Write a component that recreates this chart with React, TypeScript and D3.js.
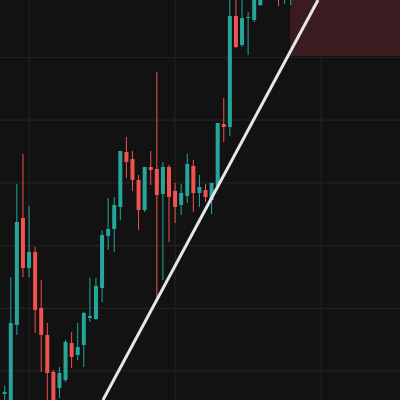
import React from "react";
import * as d3 from "d3";

const opens = [96.33, 95.37, 107.34, 124.4, 116.43, 118.98, 110.05, 105.74, 99.84, 97.29, 98.56, 104.47, 102.55, 104.15, 108.45, 108.29, 113.24, 121.53, 122.65, 126.16, 134.93, 133.81, 130.46, 125.68, 132.54, 132.22, 128.23, 132.54, 128.71, 126.48, 127.91, 132.7, 128.39, 128.87, 127.27, 129.51, 139.39, 138.92, 156.62, 151.99, 156.3, 155.98, 158.37, 161.0, 162.0, 161.08, 160.5, 160.0];
const closes = [96.65, 107.66, 123.77, 116.43, 118.98, 109.73, 105.74, 99.68, 95.06, 99.68, 104.63, 102.23, 103.83, 109.25, 108.77, 113.56, 121.69, 122.65, 126.48, 135.09, 133.33, 130.46, 125.68, 132.54, 132.06, 128.07, 132.54, 127.75, 126.16, 128.39, 133.01, 128.39, 129.35, 127.75, 129.98, 139.55, 138.92, 156.62, 151.67, 156.3, 156.46, 160.45, 160.77, 162.0, 161.5, 159.81, 161.2, 161.0];
const highs = [97.61, 114.99, 129.83, 134.61, 126.32, 119.78, 114.51, 107.66, 100.16, 100.64, 104.94, 106.22, 107.66, 109.41, 114.83, 114.83, 122.49, 127.59, 127.75, 135.09, 137.32, 135.09, 131.26, 132.54, 135.09, 147.69, 133.33, 132.86, 129.98, 129.83, 134.61, 133.65, 131.26, 129.83, 129.98, 139.55, 143.54, 159.97, 159.97, 159.97, 157.26, 160.77, 161.2, 162.8, 163.0, 161.5, 161.8, 161.5];
const lows = [95.06, 95.06, 105.74, 114.99, 114.99, 106.06, 99.84, 95.37, 94.58, 95.69, 98.25, 100.48, 101.75, 100.64, 107.82, 108.13, 111.0, 119.3, 118.98, 124.08, 130.78, 128.71, 122.49, 125.36, 129.67, 111.8, 114.51, 120.57, 123.6, 124.88, 126.79, 125.36, 126.16, 126.95, 125.04, 128.87, 136.52, 137.48, 151.52, 151.67, 150.4, 155.66, 158.21, 160.2, 160.5, 158.21, 158.53, 158.37];

const trendIdx = [16.15, 51.49];
const trendPrice = [95.37, 159.17];
const zoneIdx = [46.9, 70];
const zonePrice = [150.24, 170];
const gridIdx = [4, 28, 52];
const gridPrice = [100, 110, 120, 130, 140, 150];

const W = 400;
const H = 400;
const UP = "#26a69a";
const DOWN = "#ef5350";

export default function App() {
  const x = d3.scaleLinear().domain([-0.772, 64.96]).range([0, W]);
  const y = d3.scaleLinear().domain([95.37, 159.17]).range([H, 0]);
  const bodyW = 4;
  const line = d3
    .line<number>()
    .x((_, i) => x(trendIdx[i]))
    .y((d) => y(d));

  return (
    <div style={{ position: "fixed", left: 0, top: 0, width: W, height: H }}>
      <svg width={W} height={H} style={{ display: "block" }}>
        <rect x={0} y={0} width={W} height={H} fill="#121212" />
        {gridPrice.map((p) => (
          <line key={"h" + p} x1={0} x2={W} y1={y(p)} y2={y(p)} stroke="#222222" strokeWidth={1.2} />
        ))}
        {gridIdx.map((g) => (
          <line key={"v" + g} y1={0} y2={H} x1={x(g)} x2={x(g)} stroke="#222222" strokeWidth={1.2} />
        ))}
        <rect
          x={x(zoneIdx[0])}
          y={y(zonePrice[1])}
          width={x(zoneIdx[1]) - x(zoneIdx[0])}
          height={y(zonePrice[0]) - y(zonePrice[1])}
          fill="#3a1b20"
        />
        {opens.map((o, i) => {
          const c = closes[i];
          const up = c >= o;
          const col = up ? UP : DOWN;
          const cx = x(i);
          const top = y(Math.max(o, c));
          const bot = y(Math.min(o, c));
          return (
            <g key={i}>
              <line x1={cx} x2={cx} y1={y(highs[i])} y2={y(lows[i])} stroke={col} strokeWidth={1} />
              <rect x={cx - bodyW / 2} y={top} width={bodyW} height={Math.max(1, bot - top)} fill={col} />
            </g>
          );
        })}
        <path d={line(trendPrice) || ""} stroke="#e6e6e6" strokeWidth={3} fill="none" />
      </svg>
    </div>
  );
}
